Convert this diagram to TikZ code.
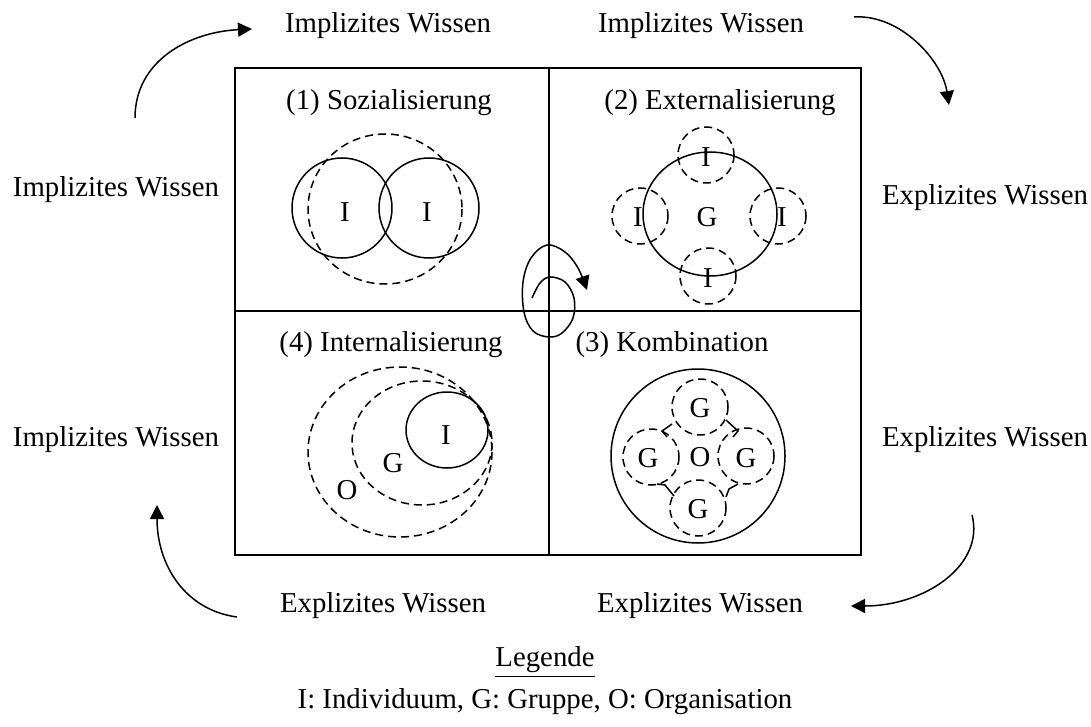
\documentclass[tikz,border=0pt]{standalone}
\usepackage{fontspec}
\setmainfont{Liberation Serif}
\usetikzlibrary{arrows.meta}

\tikzset{
  lbl/.style={font=\fontsize{14.4}{16}\selectfont, inner sep=0pt},
  frame/.style={line width=1pt},
  ring/.style={line width=0.75pt},
  dashring/.style={line width=0.75pt, dash pattern=on 4pt off 2.5pt},
  turn/.style={line width=0.75pt, ->, >={Triangle[length=7pt,width=7pt]}},
}

\begin{document}
\begin{tikzpicture}[x=0.5pt, y=-0.5pt]
\useasboundingbox (0,0) rectangle (1091,727);

% ============================================================ the frame
\draw[frame] (235,68) rectangle (861,555);
\draw[frame] (549,68) -- (549,555);
\draw[frame] (235,311) -- (861,311);

% ==================================================== quadrant titles
\node[lbl] (sozi) at (389,103) {(1) Sozialisierung};
\node[lbl] (exte) at (720,103) {(2) Externalisierung};
\node[lbl] (inte) at (391,345) {(4) Internalisierung};
\node[lbl] (komb) at (672,345) {(3) Kombination};

% ======================================== (1) two individuals, one field
\draw[ring] (342,208) ellipse [x radius=50, y radius=50];
\draw[ring] (429,208) ellipse [x radius=50, y radius=50];
\draw[dashring] (385,209) ellipse [x radius=77, y radius=75];
\node[lbl] (s1) at (345,212) {I};
\node[lbl] (s2) at (427,212) {I};

% =================================== (2) group with four individuals
\draw[ring] (710,214) ellipse [x radius=67, y radius=62];
\foreach \cx/\cy in {706/155, 640/216, 778/216, 708/276}
  \draw[dashring] (\cx,\cy) ellipse [x radius=28, y radius=28];
\node[lbl] (eg) at (707,217) {G};
\node[lbl] (e1) at (706,157) {I};
\node[lbl] (e2) at (638,217) {I};
\node[lbl] (e3) at (782,217) {I};
\node[lbl] (e4) at (708,278) {I};

% ================================ (3) organisation with four groups
\draw[ring] (698,456) ellipse [x radius=87, y radius=87];
\foreach \cx/\cy in {700/407, 651/457, 746/456, 698/508}
  \draw[dashring] (\cx,\cy) ellipse [x radius=28, y radius=28];
% Links between the groups.
\draw[ring] (672,424) -- (662,431) -- (667,437);
\draw[ring] (726,420) -- (738,431) -- (733,437);
\draw[ring] (657,484) -- (665,485) -- (674,496);
\draw[ring] (726,497) -- (729,489) -- (738,484);
\node[lbl] (ko) at (700,457) {O};
\node[lbl] (k1) at (700,408) {G};
\node[lbl] (k2) at (648,458) {G};
\node[lbl] (k3) at (746,458) {G};
\node[lbl] (k4) at (698,509) {G};

% ============================== (4) individual in group in organisation
\draw[dashring] (400,452) ellipse [x radius=92, y radius=85];
\draw[dashring] (422,443) ellipse [x radius=70, y radius=62];
\draw[ring] (447,430) ellipse [x radius=41, y radius=38];
\node[lbl] (i1) at (446,435) {I};
\node[lbl] (ig) at (393,463) {G};
\node[lbl] (io) at (347,490) {O};

% ====================================================== the spiral
\draw[turn] plot[smooth, tension=0.6] coordinates {
  (532,298) (540,283) (550,277) (565,282) (574,298) (573,318) (562,333)
  (549,337) (533,331) (524,312) (523,282) (531,258) (547,245) (565,252)
  (578,268) (587,290)};

% ============================================= knowledge labels
\node[lbl] (top1) at (388,26) {Implizites Wissen};
\node[lbl] (top2) at (701,26) {Implizites Wissen};
\node[lbl] (lft1) at (116,190) {Implizites Wissen};
\node[lbl] (lft2) at (116,440) {Implizites Wissen};
\node[lbl] (rgt1) at (985,198) {Explizites Wissen};
\node[lbl] (rgt2) at (985,440) {Explizites Wissen};
\node[lbl] (bot1) at (383,606) {Explizites Wissen};
\node[lbl] (bot2) at (700,606) {Explizites Wissen};

% ============================================ the turning arrows
\coordinate (tlA) at (135,118);  \coordinate (tlB) at (252,29);
\coordinate (trA) at (854,17);   \coordinate (trB) at (949,105);
\coordinate (brA) at (972,515);  \coordinate (brB) at (851,606);
\coordinate (blA) at (237,617);  \coordinate (blB) at (157,505);
\draw[turn] (tlA) .. controls (135,60) and (190,32) .. (tlB);
\draw[turn] (trA) .. controls (900,14) and (942,60) .. (trB);
\draw[turn] (brA) .. controls (985,565) and (925,606) .. (brB);
\draw[turn] (blA) .. controls (185,610) and (157,565) .. (blB);

% ========================================================= legend
\node[lbl] (leg) at (545,662) {\underline{Legende}};
\node[lbl] (legtxt) at (545,702) {I: Individuum, G: Gruppe, O: Organisation};

\end{tikzpicture}
\end{document}
